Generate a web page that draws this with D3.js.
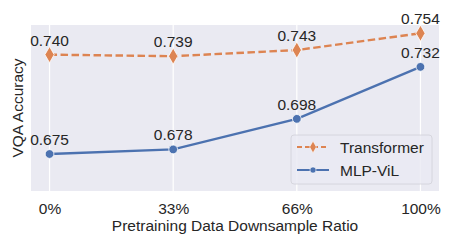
<!DOCTYPE html>
<html>
<head>
<meta charset="utf-8">
<script src="https://cdn.jsdelivr.net/npm/d3@7"></script>
<style>
  body { margin: 0; background: #fff; }
  text { font-family: "Liberation Sans", Arial, sans-serif; fill: #262626; }
</style>
</head>
<body>
<div id="chart"></div>
<script>
var categories = ["0%", "33%", "66%", "100%"];
var transformer = [0.740, 0.739, 0.743, 0.754];
var mlpVil = [0.675, 0.678, 0.698, 0.732];
var seriesNames = ["Transformer", "MLP-ViL"];

var width = 457, height = 246,
    margin = {top: 25, right: 18, bottom: 55, left: 31},
    innerWidth = width - margin.left - margin.right,
    innerHeight = height - margin.top - margin.bottom;

var svg = d3.select("#chart").append("svg")
    .attr("width", width)
    .attr("height", height);

var g = svg.append("g")
    .attr("transform", "translate(" + margin.left + "," + margin.top + ")");

g.append("rect")
    .attr("width", innerWidth)
    .attr("height", innerHeight)
    .attr("fill", "#eaeaf2");

var x = d3.scalePoint().domain(categories).range([0, innerWidth]).padding(0.15);
var y = d3.scaleLinear().domain([0.6508, 0.7594]).range([innerHeight, 0]);

// vertical grid lines
g.selectAll(".grid")
    .data(categories)
    .enter().append("line")
    .attr("x1", function(d) { return x(d); })
    .attr("x2", function(d) { return x(d); })
    .attr("y1", 0)
    .attr("y2", innerHeight)
    .attr("stroke", "#fff")
    .attr("stroke-width", 1.2);

var xAxis = g.append("g")
    .attr("transform", "translate(0," + innerHeight + ")")
    .call(d3.axisBottom(x).tickSize(0).tickPadding(12));
xAxis.select(".domain").remove();
xAxis.selectAll("text")
    .style("font-size", "15.5px")
    .style("fill", "#262626")
    .style("font-family", "Liberation Sans, Arial, sans-serif");

svg.append("text")
    .attr("x", margin.left + innerWidth / 2)
    .attr("y", 231)
    .attr("text-anchor", "middle")
    .style("font-size", "15.5px")
    .text("Pretraining Data Downsample Ratio");

svg.append("text")
    .attr("transform", "translate(23," + (margin.top + innerHeight / 2) + ") rotate(-90)")
    .attr("text-anchor", "middle")
    .style("font-size", "15.5px")
    .text("VQA Accuracy");

var series = [
  {name: seriesNames[0], values: transformer, color: "#dd8452", dash: "7.5,3.5", shape: d3.symbolDiamond},
  {name: seriesNames[1], values: mlpVil, color: "#4c72b0", dash: null, shape: d3.symbolCircle}
];

var line = d3.line()
    .x(function(d, i) { return x(categories[i]); })
    .y(function(d) { return y(d); });

series.forEach(function(s) {
  g.append("path")
      .datum(s.values)
      .attr("fill", "none")
      .attr("stroke", s.color)
      .attr("stroke-width", 2.4)
      .attr("stroke-dasharray", s.dash)
      .attr("d", line);

  g.selectAll(null)
      .data(s.values)
      .enter().append("path")
      .attr("transform", function(d, i) { return "translate(" + x(categories[i]) + "," + y(d) + ")"; })
      .attr("d", d3.symbol().type(s.shape).size(s.shape === d3.symbolDiamond ? 75 : 60))
      .attr("fill", s.color)
      .attr("stroke", "#fff")
      .attr("stroke-width", 0.8);

  g.selectAll(null)
      .data(s.values)
      .enter().append("text")
      .attr("x", function(d, i) { return x(categories[i]); })
      .attr("y", function(d) { return y(d) - 9; })
      .attr("text-anchor", "middle")
      .style("font-size", "15.5px")
      .text(function(d) { return d3.format(".3f")(d); });
});

// legend
var legend = svg.append("g").attr("transform", "translate(291,135)");
legend.append("rect")
    .attr("width", 141)
    .attr("height", 49)
    .attr("rx", 3)
    .attr("fill", "#eaeaf2")
    .attr("fill-opacity", 0.8)
    .attr("stroke", "#d0d0d8")
    .attr("stroke-width", 0.8);

series.forEach(function(s, i) {
  var ly = 12 + i * 23;
  legend.append("line")
      .attr("x1", 6).attr("x2", 38)
      .attr("y1", ly).attr("y2", ly)
      .attr("stroke", s.color)
      .attr("stroke-width", 2)
      .attr("stroke-dasharray", s.dash ? "5,3" : null);
  legend.append("path")
      .attr("transform", "translate(22," + ly + ")")
      .attr("d", d3.symbol().type(s.shape).size(s.shape === d3.symbolDiamond ? 40 : 30))
      .attr("fill", s.color)
      .attr("stroke", "#fff")
      .attr("stroke-width", 0.6);
  legend.append("text")
      .attr("x", 49)
      .attr("y", ly + 5.5)
      .style("font-size", "15.5px")
      .text(s.name);
});
</script>
</body>
</html>
